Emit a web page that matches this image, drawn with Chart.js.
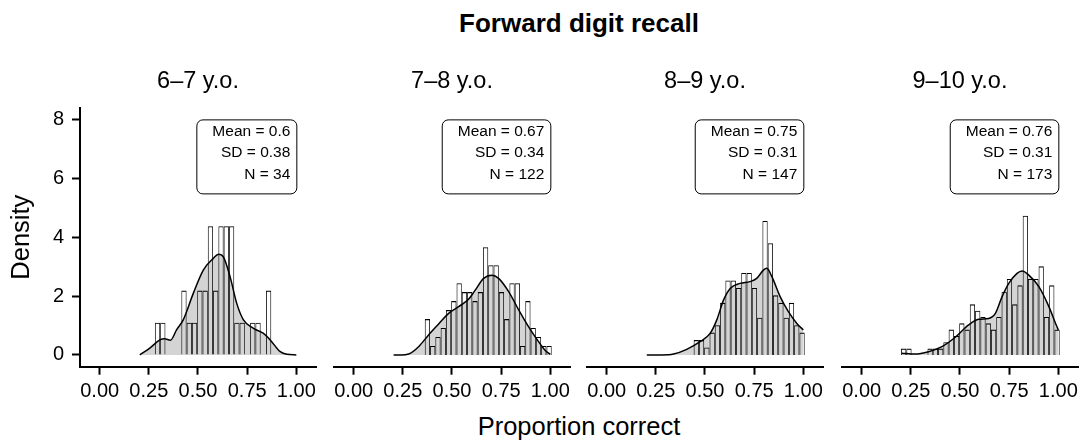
<!DOCTYPE html>
<html>
<head>
<meta charset="utf-8">
<script src="https://cdn.jsdelivr.net/npm/chart.js@4.4.0/dist/chart.umd.min.js"></script>
<style>
  body { margin: 0; background: #fff; width: 1083px; height: 446px; position: relative; overflow: hidden;
         font-family: "Liberation Sans", Arial, sans-serif; }
  canvas { position: absolute; top: 0; }
  .lbl { position: absolute; white-space: nowrap; color: #000; line-height: 1; transform: translateX(-50%); }
</style>
</head>
<body>
<div class="lbl" style="font-weight:bold;font-size:26px;left:579px;top:10px">Forward digit recall</div>
<div class="lbl" style="font-size:25.5px;left:579px;top:414px">Proportion correct</div>
<canvas id="p0" width="326" height="446" style="left:0px"></canvas>
<canvas id="p1" width="256" height="446" style="left:324px"></canvas>
<canvas id="p2" width="256" height="446" style="left:577px"></canvas>
<canvas id="p3" width="256" height="446" style="left:832px"></canvas>
<script>
// age groups (facets)
const groups = ['6–7 y.o.', '7–8 y.o.', '8–9 y.o.', '9–10 y.o.'];
const means = ['0.6', '0.67', '0.75', '0.76'];
const sds = ['0.38', '0.34', '0.31', '0.31'];
const ns = [34, 122, 147, 173];

// histogram bins (30 bins, width 0.0269)
const binWidth = 0.0269;
const binMids = [0.2135, 0.2404, 0.2673, 0.2942, 0.3211, 0.3480, 0.3749, 0.4018, 0.4287, 0.4556,
                 0.4825, 0.5094, 0.5363, 0.5632, 0.5901, 0.6170, 0.6439, 0.6708, 0.6977, 0.7246,
                 0.7515, 0.7784, 0.8053, 0.8322, 0.8591, 0.8860, 0.9129, 0.9398, 0.9667, 0.9936];

// counts per bin for each age group
const counts67  = [0,0,0,1,1,0,0,0,2,1, 1,2,2,4,2,4,4,4,1,1, 0,1,1,0,2,0,0,0,0,0];
const counts78  = [0,0,0,0,0,0,4,1,2,3, 5,6,8,7,7,6,7,12,10,10, 7,4,8,8,1,6,3,2,1,1];
const counts89  = [0,0,0,0,0,0,0,0,0,2, 2,1,3,4,7,10,10,9,11,11, 9,5,18,15,8,7,5,7,4,3];
const counts910 = [1,1,0,0,0,1,1,1,2,4, 3,5,4,8,7,6,5,4,6,10, 12,8,11,22,12,12,14,6,11,4];
const allCounts = [counts67, counts78, counts89, counts910];

// kernel density estimates, x and y per age group
const densX67  = [0.204,0.255,0.306,0.33,0.36,0.391,0.425,0.476,0.527,0.578,0.604,0.629,0.663,0.697,0.731,0.782,0.833,0.867,0.918,0.952,1.0];
const densY67  = [0.0,0.23,0.51,0.55,0.5,0.85,1.19,2.09,2.88,3.28,3.42,3.33,2.66,1.75,1.19,0.9,0.73,0.51,0.11,0.02,0.0];
const densX78  = [0.203,0.24,0.28,0.33,0.381,0.432,0.483,0.534,0.584,0.618,0.661,0.703,0.737,0.788,0.839,0.889,0.94,0.974,1.0];
const densY78  = [0.0,0.0,0.03,0.28,0.68,1.05,1.41,1.64,1.89,2.2,2.6,2.71,2.6,2.15,1.53,0.96,0.45,0.15,0.02];
const densX89  = [0.204,0.28,0.34,0.407,0.475,0.526,0.56,0.594,0.628,0.679,0.729,0.763,0.797,0.814,0.84,0.882,0.924,0.967,1.0];
const densY89  = [0.0,0.0,0.03,0.19,0.45,0.73,1.19,1.86,2.26,2.43,2.49,2.6,2.88,2.94,2.66,1.98,1.47,1.07,0.85];
const densX910 = [0.204,0.272,0.34,0.408,0.476,0.544,0.595,0.646,0.68,0.714,0.748,0.79,0.816,0.85,0.901,0.952,0.986,1.0];
const densY910 = [0.06,0.03,0.11,0.28,0.6,1.02,1.21,1.24,1.41,1.98,2.43,2.77,2.85,2.71,2.32,1.64,1.07,0.85];
const densX = [densX67, densX78, densX89, densX910];
const densY = [densY67, densY78, densY89, densY910];

const xTicks = [0, 0.25, 0.5, 0.75, 1];
const yTicks = [0, 2, 4, 6, 8];

Chart.defaults.font.family = '"Liberation Sans", Arial, sans-serif';
Chart.defaults.color = '#000';

// rounded label with the summary stats, anchored top-right at (1, 8)
const statBox = {
  id: 'statBox',
  afterDatasetsDraw(chart, args, opts) {
    const ctx = chart.ctx;
    const x = chart.scales.x, y = chart.scales.y;
    ctx.save();
    ctx.font = '15.5px "Liberation Sans", Arial, sans-serif';
    let w = 0;
    opts.lines.forEach(l => { w = Math.max(w, ctx.measureText(l).width); });
    w += 22;
    const right = x.getPixelForValue(1), top = y.getPixelForValue(8);
    const h = 74;
    ctx.beginPath();
    ctx.roundRect(right - w + 0.5, top + 0.5, w, h, 6);
    ctx.fillStyle = '#fff';
    ctx.fill();
    ctx.lineWidth = 1;
    ctx.strokeStyle = '#000';
    ctx.stroke();
    ctx.fillStyle = '#000';
    ctx.textAlign = 'right';
    ctx.textBaseline = 'middle';
    opts.lines.forEach((l, i) => ctx.fillText(l, right - 6, top + 12 + i * 21.6));
    ctx.restore();
  }
};

function makePanel(i) {
  const first = i === 0;
  const n = ns[i];
  const bars = [];
  allCounts[i].forEach((c, k) => {
    if (c > 0) bars.push({ x: binMids[k], y: c / (n * binWidth) });
  });
  const dens = densX[i].map((v, k) => ({ x: v, y: densY[i][k] }));

  new Chart(document.getElementById('p' + i), {
    data: {
      datasets: [{
        type: 'bar',
        data: bars,
        backgroundColor: 'rgba(0,0,0,0)',
        borderColor: '#000',
        borderWidth: { top: 1.1, left: 0.8, right: 0.8, bottom: 0 },
        borderSkipped: 'start',
        inflateAmount: 0,
        barPercentage: 1,
        categoryPercentage: 1
      }, {
        type: 'line',
        data: dens,
        borderColor: '#000',
        borderWidth: 1.5,
        backgroundColor: '#d4d4d4',
        fill: 'origin',
        pointRadius: 0,
        cubicInterpolationMode: 'monotone'
      }]
    },
    options: {
      responsive: false,
      animation: false,
      layout: { padding: { left: first ? 0 : 10, right: 10, top: 0, bottom: 0 } },
      scales: {
        x: {
          type: 'linear',
          offset: false,
          min: -0.1, max: 1.1,
          afterBuildTicks: s => { s.ticks = xTicks.map(v => ({ value: v })); },
          afterFit: s => { s.height = 446 - 366.7; },
          ticks: { font: { size: 20 }, padding: 5, maxRotation: 0, callback: v => v.toFixed(2) },
          grid: { offset: false, drawOnChartArea: false, drawTicks: true, tickLength: 8, tickWidth: 2, tickColor: '#000' },
          border: { display: true, color: '#000', width: 2 }
        },
        y: {
          type: 'linear',
          display: first,
          min: -0.4, max: 8.4,
          afterBuildTicks: s => { s.ticks = yTicks.map(v => ({ value: v })); },
          afterFit: s => { s.width = first ? 80 : 0; },
          ticks: { font: { size: 20 }, padding: 8 },
          grid: { drawOnChartArea: false, drawTicks: true, tickLength: 8, tickWidth: 2, tickColor: '#000' },
          border: { display: true, color: '#000', width: 2 },
          title: { display: true, text: 'Density', font: { size: 25.5 }, padding: { top: 7, bottom: 0 } }
        }
      },
      plugins: {
        legend: { display: false },
        tooltip: { enabled: false },
        title: {
          display: true,
          text: groups[i],
          fullSize: false,
          font: { size: 23.5, weight: 'normal' },
          padding: { top: 67, bottom: 12.4 }
        },
        statBox: { lines: ['Mean = ' + means[i], 'SD = ' + sds[i], 'N = ' + n] }
      }
    },
    plugins: [statBox]
  });
}

for (let i = 0; i < 4; i++) makePanel(i);
</script>
</body>
</html>
